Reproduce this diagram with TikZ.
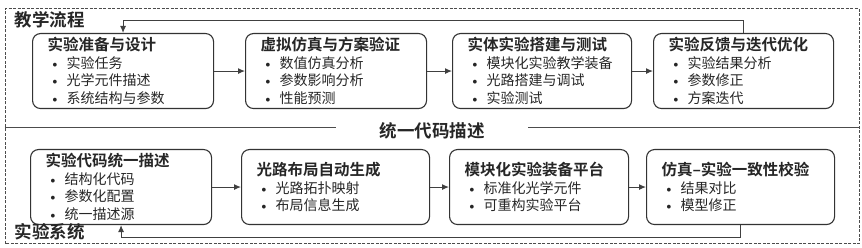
\documentclass[tikz,border=0pt]{standalone}
\usepackage{fontspec}
\usetikzlibrary{arrows.meta}
\newfontfamily\cjk[BoldFont={Noto Sans CJK SC Bold}]{Noto Sans CJK SC}
\newcommand{\ttl}[1]{{\fontsize{15.5}{17.5}\selectfont\bfseries #1}}
\newcommand{\itm}{\hspace*{2pt}\makebox[17pt][l]{\normalfont\textbullet}}

\begin{document}
\begin{tikzpicture}[x=1pt,y=1pt,
    stage/.style={draw=black!80, line width=1.1pt, rounded corners=8pt, anchor=north west,
      text width=#1, inner xsep=15pt, inner ysep=0pt, minimum height=75pt, align=left,
      text=black!85, font=\cjk\fontsize{14}{17.5}\selectfont},
    flow/.style={draw=black!75, line width=1pt, -{Latex[length=7pt,width=6pt]}},
    rule/.style={draw=black!70, line width=1pt},
    heading/.style={text=black!85, font=\cjk\fontsize{17.5}{20}\selectfont\bfseries}]
  \useasboundingbox (0,0) rectangle (862,248);
  \draw[black!70, line width=1pt, dash pattern=on 3pt off 1.5pt] (5,4) rectangle (859,239);

  % teaching flow
  \node[stage=151pt] (prep) at (32,215) {\ttl{实验准备与设计}\\ \itm 实验任务\\ \itm 光学元件描述\\ \itm 系统结构与参数};
  \node[stage=151pt] (sim) at (245,215) {\ttl{虚拟仿真与方案验证}\\ \itm 数值仿真分析\\ \itm 参数影响分析\\ \itm 性能预测};
  \node[stage=149pt] (build) at (452,215) {\ttl{实体实验搭建与测试}\\ \itm 模块化实验教学装备\\ \itm 光路搭建与调试\\ \itm 实验测试};
  \node[stage=150pt] (iter) at (653,215) {\ttl{实验反馈与迭代优化}\\ \itm 实验结果分析\\ \itm 参数修正\\ \itm 方案迭代};

  % experiment system
  \node[stage=151pt] (code) at (30,99) {\ttl{实验代码统一描述}\\ \itm 结构化代码\\ \itm 参数化配置\\ \itm 统一描述源};
  \node[stage=158pt] (layout) at (241,99) {\ttl{光路布局自动生成}\\ \itm 光路拓扑映射\\ \itm 布局信息生成};
  \node[stage=149pt] (kit) at (449,99) {\ttl{模块化实验装备平台}\\ \itm 标准化光学元件\\ \itm 可重构实验平台};
  \node[stage=158pt] (check) at (646,99) {\ttl{仿真–实验一致性校验}\\ \itm 结果对比\\ \itm 模型修正};

  \draw[flow] (prep.east) -- (sim.west);
  \draw[flow] (sim.east) -- (build.west);
  \draw[flow] (build.east) -- (iter.west);
  \draw[flow] (code.east) -- (layout.west);
  \draw[flow] (layout.east) -- (kit.west);
  \draw[flow] (kit.east) -- (check.west);
  \draw[flow] (iter.north) -- ++(0,12) -| (prep.north);
  \draw[flow] (check.south) -- ++(0,-12) -| (code.south);

  % section labels and divider
  \node[heading, anchor=west] (teach) at (11,228) {教学流程};
  \node[heading, anchor=west] (sys) at (11,16) {实验系统};
  \node[heading] (unified) at (432,117) {统一代码描述};
  \coordinate (divL) at (5,120);
  \coordinate (divR) at (859,120);
  \draw[rule] (divL) -- ([xshift=-40pt]unified.west |- divL);
  \draw[rule] ([xshift=40pt]unified.east |- divR) -- (divR);
\end{tikzpicture}
\end{document}
